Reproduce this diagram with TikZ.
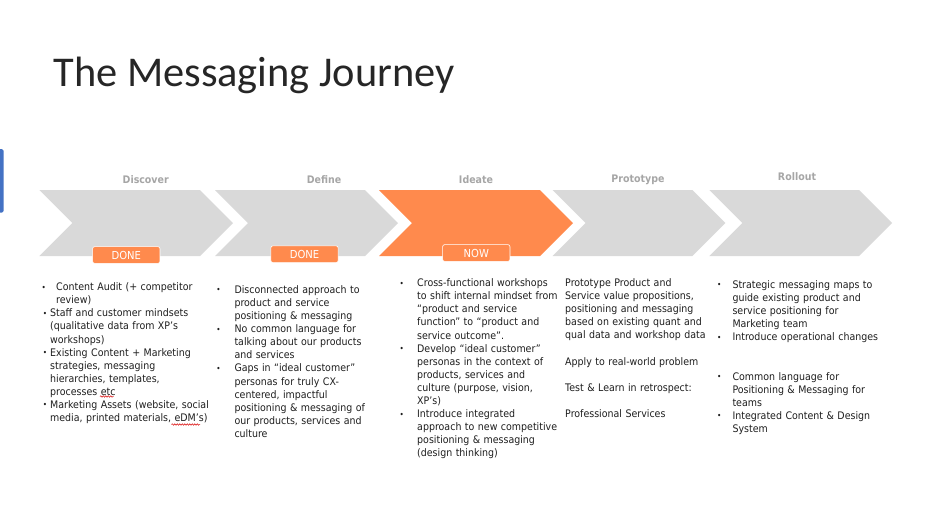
\documentclass[tikz,border=0pt]{standalone}
\usepackage{fontspec}
\usetikzlibrary{decorations.pathmorphing}
\newfontfamily\titlefont{Carlito}
\newfontfamily\bodyfont[FakeStretch=0.91]{DejaVu Sans}
\definecolor{chevgray}{HTML}{D9D9D9}
\definecolor{chevorange}{HTML}{FF8A4D}
\definecolor{labelgray}{HTML}{A6A6A6}
\definecolor{titlecol}{HTML}{262626}
\definecolor{bodycol}{HTML}{1F1F1F}
\definecolor{barblue}{HTML}{4472C4}
\newcommand\bl[1]{\leavevmode\llap{\makebox[#1][l]{\raisebox{0.1ex}{\fontsize{8}{8}\selectfont •}}}}
\tikzset{
  chev/.style={fill=chevgray, draw=none},
  chevnow/.style={fill=chevorange, draw=none},
  phase/.style={font=\bodyfont\bfseries\fontsize{10.4}{12}\selectfont, text=labelgray, inner sep=0, anchor=center},
  status/.style={fill=chevorange, draw=white, line width=0.6pt, rounded corners=2pt, minimum width=67.3pt, minimum height=16.7pt, inner sep=0, text=white, font=\bodyfont\fontsize{11}{12}\selectfont},
  col/.style={anchor=base west, inner sep=0, text width=190pt, align=left, text=bodycol, font=\bodyfont\fontsize{10.4}{13.1}\selectfont},
  squiggle/.style={draw=red!85!black, line width=0.5pt, decorate, decoration={snake, amplitude=0.7pt, segment length=2.5pt}}
}
\begin{document}
\begin{tikzpicture}[x=1pt,y=-1pt]
\useasboundingbox[fill=white] (0,0) rectangle (943,531);
% left accent bar
\fill[barblue, rounded corners=1.5pt] (-2,149) rectangle (3.5,212.7);
% title
\node[anchor=base west, inner sep=0, text=titlecol, font=\titlefont\fontsize{42.4}{50}\selectfont] (title) at (53.3,86.7) {The Messaging Journey};
% chevrons
\def\ct{190}\def\cb{256}\def\cm{223}
\path[chev] (39.3,\ct) -- (200,\ct) -- (233,\cm) -- (200,\cb) -- (39.3,\cb) -- (72.3,\cm) -- cycle;
\path[chev] (215,\ct) -- (365,\ct) -- (398,\cm) -- (365,\cb) -- (215,\cb) -- (248,\cm) -- cycle;
\path[chevnow] (379,\ct) -- (540,\ct) -- (573,\cm) -- (540,\cb) -- (379,\cb) -- (412,\cm) -- cycle;
\path[chev] (552.7,\ct) -- (692.3,\ct) -- (725.3,\cm) -- (692.3,\cb) -- (552.7,\cb) -- (585.7,\cm) -- cycle;
\path[chev] (709.3,\ct) -- (859,\ct) -- (892,\cm) -- (859,\cb) -- (709.3,\cb) -- (742.3,\cm) -- cycle;
% phase labels
\node[phase] (discover) at (145.7,180) {Discover};
\node[phase] (define) at (324,180) {Define};
\node[phase] (ideate) at (476,180) {Ideate};
\node[phase] (prototype) at (638,180) {Prototype};
\node[phase] (rollout) at (797,177) {Rollout};
% status boxes
\node[status] (done1) at (126.3,255) {DONE};
\node[status] (done2) at (304.5,254.2) {DONE};
\node[status] (now) at (476.3,253) {NOW};
% column texts
\node[col] (c1) at (50,290.6) {%
\hspace*{6pt}\bl{14.5pt}Content Audit (+ competitor\\
\hspace*{6pt}review)\\
\bl{7.3pt}Staff and customer mindsets\\
(qualitative data from XP’s\\
workshops)\\
\bl{7.3pt}Existing Content + Marketing\\
strategies, messaging\\
hierarchies, templates,\\
processes etc\\
\bl{7.3pt}Marketing Assets (website, social\\
media, printed materials, eDM’s)};
\node[col] (c2) at (234.3,293.3) {%
\bl{18.2pt}Disconnected approach to\\
product and service\\
positioning \& messaging\\
\bl{18.2pt}No common language for\\
talking about our products\\
and services\\
\bl{18.2pt}Gaps in “ideal customer”\\
personas for truly CX-\\
centered, impactful\\
positioning \& messaging of\\
our products, services and\\
culture};
\node[col] (c3) at (417,286.6) {%
\bl{17.5pt}Cross-functional workshops\\
to shift internal mindset from\\
“product and service\\
function” to “product and\\
service outcome”.\\
\bl{17.5pt}Develop “ideal customer”\\
personas in the context of\\
products, services and\\
culture (purpose, vision,\\
XP’s)\\
\bl{17.5pt}Introduce integrated\\
approach to new competitive\\
positioning \& messaging\\
(design thinking)};
\node[col] (c4) at (565,286.4) {%
Prototype Product and\\
Service value propositions,\\
positioning and messaging\\
based on existing quant and\\
qual data and workshop data\\[13.1pt]
Apply to real-world problem\\[13.1pt]
Test \& Learn in retrospect:\\[13.1pt]
Professional Services};
\node[col] (c5) at (732.3,288.3) {%
\bl{15.5pt}Strategic messaging maps to\\
guide existing product and\\
service positioning for\\
Marketing team\\
\bl{15.5pt}Introduce operational changes\\[26.2pt]
\bl{15.5pt}Common language for\\
Positioning \& Messaging for\\
teams\\
\bl{15.5pt}Integrated Content \& Design\\
System};
% spell-check squiggles
\draw[squiggle] (100,396.5) -- (113.5,396.5);
\draw[squiggle] (171.5,424.5) -- (200,424.5);
\end{tikzpicture}
\end{document}
